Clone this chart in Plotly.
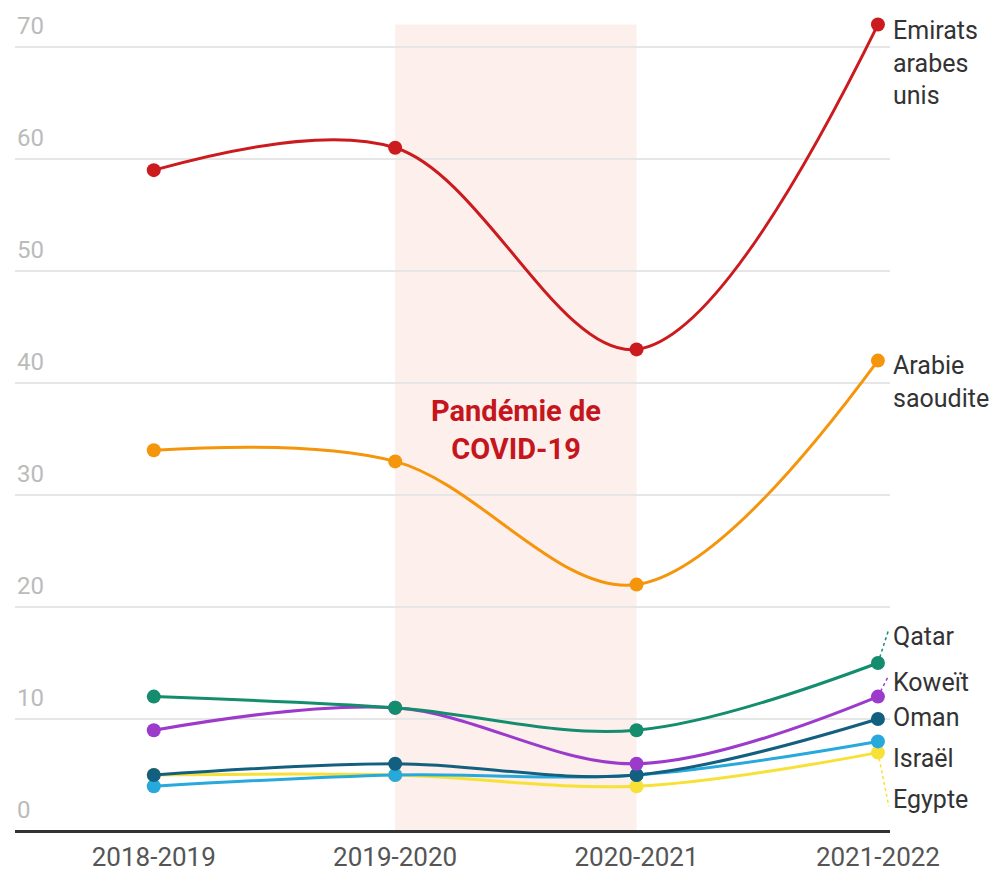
import plotly.graph_objects as go

periods = ["2018-2019", "2019-2020", "2020-2021", "2021-2022"]
countries = ["Egypte", "Israël", "Oman", "Koweït", "Qatar", "Arabie saoudite", "Emirats arabes unis"]
egypte = [5, 5, 4, 7]
israel = [4, 5, 5, 8]
oman = [5, 6, 5, 10]
koweit = [9, 11, 6, 12]
qatar = [12, 11, 9, 15]
arabie = [34, 33, 22, 42]
emirats = [59, 61, 43, 72]
series = [egypte, israel, oman, koweit, qatar, arabie, emirats]
colors = ["#f7e136", "#27a9dc", "#135f80", "#9c3bcb", "#148c6e", "#f5950c", "#cb1b1f"]
label_texts = ["Egypte", "Israël", "Oman", "Koweït", "Qatar", "Arabie<br>saoudite", "Emirats<br>arabes<br>unis"]
label_y = [2.8, 6.5, 10.1, 13.3, 17.4, 40.1, 68.6]
has_leader = [True, False, False, True, True, False, False]
yticks = [0, 10, 20, 30, 40, 50, 60, 70]

xs = list(range(len(periods)))
fig = go.Figure()

for vals, col, ly, lead in zip(series, colors, label_y, has_leader):
    # dotted leader from last point to label
    if lead:
        fig.add_trace(go.Scatter(x=[xs[-1], xs[-1] + 0.045], y=[vals[-1], ly + (0.6 if ly > vals[-1] else -0.6)],
                                 mode="lines", line=dict(color=col, width=1.5, dash="dot"),
                                 hoverinfo="skip", showlegend=False, cliponaxis=False))

for name, vals, col in zip(countries, series, colors):
    fig.add_trace(go.Scatter(x=xs, y=vals, mode="lines+markers", name=name,
                             line=dict(color=col, width=3, shape="spline", smoothing=1),
                             marker=dict(color=col, size=14),
                             showlegend=False, cliponaxis=False))

for txt, ly in zip(label_texts, label_y):
    fig.add_annotation(x=xs[-1], y=ly, xref="x", yref="y", text=txt, showarrow=False,
                       xanchor="left", yanchor="middle", xshift=13, align="left",
                       font=dict(family="Roboto", size=25, color="#333333"))

# y tick labels placed above their gridlines
for t in yticks:
    fig.add_annotation(x=0, y=t, xref="paper", yref="y", text=str(t), showarrow=False,
                       xanchor="left", yanchor="middle", yshift=21, xshift=0,
                       font=dict(family="Roboto", size=24, color="#bbbbbb"))

fig.add_shape(type="rect", xref="x", yref="y", x0=1, x1=2, y0=0, y1=72,
              fillcolor="#fdefec", line=dict(width=0), layer="below")

fig.add_annotation(x=1.5, y=35.8, xref="x", yref="y", text="<b>Pandémie de<br>COVID-19</b>",
                   showarrow=False, font=dict(family="Roboto", size=29, color="#c4161c"),
                   align="center")

fig.update_layout(
    width=996, height=866,
    margin=dict(l=7, r=114, t=2, b=43),
    paper_bgcolor="white", plot_bgcolor="white",
    font=dict(family="Roboto"),
    xaxis=dict(range=[-0.575, 3.05], tickvals=xs, ticktext=periods, showgrid=False,
               zeroline=False, showline=False, ticklabelstandoff=8, automargin=False,
               tickfont=dict(size=26, color="#555555"), ticks=""),
    yaxis=dict(range=[0, 73.3], tickvals=yticks, showgrid=True, gridcolor="#e6e6e6", gridwidth=1.5,
               zeroline=True, zerolinecolor="#333333", zerolinewidth=2.5,
               showticklabels=False, ticks="", automargin=False),
)

fig.write_html("out.html")
